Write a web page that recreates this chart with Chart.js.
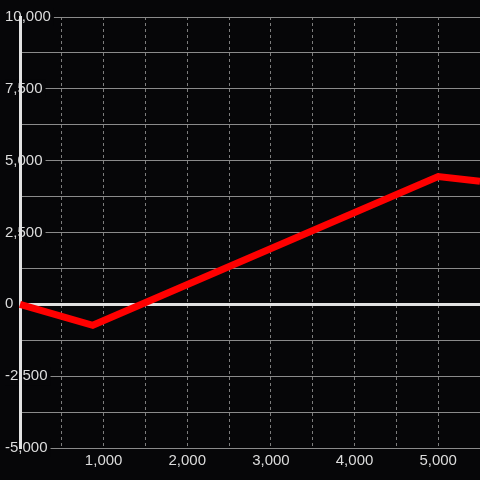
<!DOCTYPE html>
<html>
<head>
<meta charset="utf-8">
<script src="https://cdn.jsdelivr.net/npm/chart.js@4.4.1/dist/chart.umd.min.js"></script>
<style>
  html, body { margin: 0; padding: 0; background: #060608; }
  #wrap { width: 480px; height: 480px; }
</style>
</head>
<body>
<div id="wrap"><canvas id="chart" width="480" height="480"></canvas></div>
<script>
// data
const xValues = [0, 870, 5000, 5500];
const yValues = [0, -730, 4450, 4285];

// axis ranges and tick steps
const xMin = 0, xMax = 5500, xStep = 500, xLabelStep = 1000;
const yMin = -5000, yMax = 10000, yStep = 1250, yLabelStep = 2500;

const bg = '#060608';
const textColor = '#dcdcdc';
const gridColor = '#8a8a8a';
const axisColor = '#e2e2e2';
const fontSpec = { family: "'Liberation Sans', Arial, sans-serif", size: 15 };

const points = xValues.map((x, i) => ({ x: x, y: yValues[i] }));
const fmt = v => v.toLocaleString('en-US');

const ctx = document.getElementById('chart').getContext('2d');
window.chartInstance = new Chart(ctx, {
    type: 'line',
    data: {
        datasets: [{
            data: points,
            borderColor: '#ff0000',
            borderWidth: 7,
            pointRadius: 0,
            tension: 0,
            clip: 4
        }]
    },
    options: {
        responsive: false,
        animation: false,
        layout: { padding: { left: 5, top: 17, right: 0, bottom: 6 } },
        plugins: { legend: { display: false }, tooltip: { enabled: false } },
        scales: {
            x: {
                type: 'linear',
                min: xMin,
                max: xMax,
                // last label is empty, so no room is needed on the right
                afterFit: scale => { scale.paddingRight = 0; scale.paddingLeft = 0; },
                grid: {
                    color: c => (c.tick && c.tick.value > 0 && c.tick.value < xMax) ? '#7c7c7c' : 'transparent',
                    lineWidth: 1,
                    drawTicks: false
                },
                border: { display: false, dash: [3, 3] },
                ticks: {
                    stepSize: xStep,
                    autoSkip: false,
                    maxRotation: 0,
                    minRotation: 0,
                    padding: 4,
                    color: textColor,
                    font: fontSpec,
                    callback: v => (v > 0 && v % xLabelStep === 0) ? fmt(v) : ''
                }
            },
            y: {
                type: 'linear',
                min: yMin,
                max: yMax,
                afterFit: scale => { scale.width = 15; },
                grid: {
                    color: c => c.tick && c.tick.value === 0 ? axisColor : gridColor,
                    lineWidth: c => c.tick && c.tick.value === 0 ? 3 : 1,
                    drawTicks: false
                },
                border: { display: true, color: axisColor, width: 3, z: 0 },
                ticks: {
                    stepSize: yStep,
                    autoSkip: false,
                    mirror: true,
                    crossAlign: 'near',
                    padding: -15,
                    z: -0.5,
                    color: textColor,
                    font: fontSpec,
                    showLabelBackdrop: c => !!c.tick && c.tick.value % yLabelStep === 0,
                    backdropColor: bg,
                    backdropPadding: { left: 0, right: 3, top: 0, bottom: 0 },
                    callback: v => v % yLabelStep === 0 ? fmt(v) : ''
                }
            }
        }
    }
});
</script>
</body>
</html>
